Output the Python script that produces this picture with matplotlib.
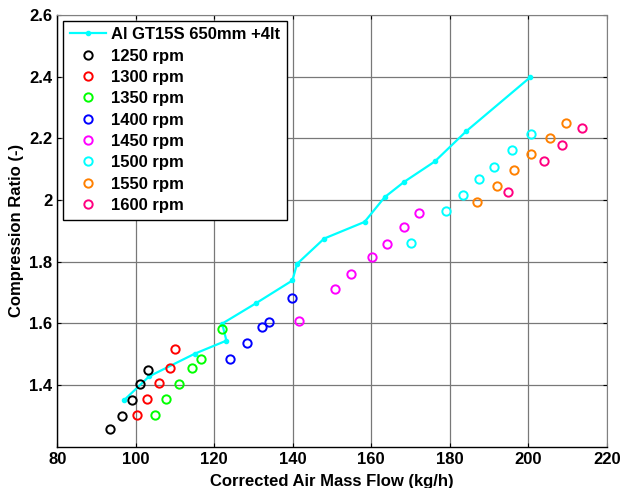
import numpy as np
import matplotlib
matplotlib.use("Agg")
import matplotlib.pyplot as plt

plt.rcParams['font.family'] = ['Liberation Sans', 'DejaVu Sans']
plt.rcParams['font.weight'] = 'bold'

# compressor map line
line_x = [97.1, 103.4, 115.1, 123.1, 122.0, 130.6, 139.9, 141.1, 148.0, 158.3, 163.4, 168.4, 176.2, 184.2, 200.5]
line_y = [1.352, 1.428, 1.502, 1.544, 1.599, 1.665, 1.739, 1.793, 1.875, 1.929, 2.009, 2.059, 2.125, 2.223, 2.398]
line_label = "Al GT15S 650mm +4lt"

# measured points per engine speed
speeds = ["1250 rpm", "1300 rpm", "1350 rpm", "1400 rpm", "1450 rpm", "1500 rpm", "1550 rpm", "1600 rpm"]
colors = ["#000000", "#ff0000", "#00ff00", "#0000ff", "#ff00ff", "#00ffff", "#ff8000", "#ff0080"]

x1250 = [93.5, 96.4, 99.0, 101.1, 103.1]
y1250 = [1.256, 1.300, 1.353, 1.403, 1.449]
x1300 = [100.2, 102.9, 105.8, 108.7, 110.1]
y1300 = [1.304, 1.355, 1.406, 1.454, 1.516]
x1350 = [105.0, 107.6, 111.1, 114.4, 116.5, 121.9]
y1350 = [1.304, 1.355, 1.403, 1.454, 1.486, 1.582]
x1400 = [124.0, 128.3, 132.2, 133.9, 139.7]
y1400 = [1.484, 1.535, 1.588, 1.605, 1.683]
x1450 = [141.7, 150.7, 154.9, 160.1, 164.0, 168.3, 172.1]
y1450 = [1.607, 1.710, 1.759, 1.816, 1.857, 1.911, 1.957]
x1500 = [170.2, 179.0, 183.3, 187.4, 191.2, 195.9, 200.6]
y1500 = [1.861, 1.963, 2.016, 2.067, 2.107, 2.161, 2.215]
x1550 = [186.9, 192.1, 196.4, 200.8, 205.5, 209.7]
y1550 = [1.995, 2.046, 2.096, 2.149, 2.200, 2.251]
x1600 = [194.9, 204.1, 208.6, 213.7]
y1600 = [2.025, 2.126, 2.180, 2.233]

xs = [x1250, x1300, x1350, x1400, x1450, x1500, x1550, x1600]
ys = [y1250, y1300, y1350, y1400, y1450, y1500, y1550, y1600]

fig = plt.figure(figsize=(6.2, 4.88), dpi=100)
ax = fig.add_axes([57.3/620, 41.3/488, 549.4/620, 431.7/488])

ax.plot(line_x, line_y, color="#00ffff", lw=1.6, marker='o', ms=3, label=line_label)
for x, y, c, lab in zip(xs, ys, colors, speeds):
    ax.plot(x, y, linestyle='none', marker='o', ms=6, mfc='none', mec=c, mew=1.4, label=lab)

ax.set_xlim(80, 220)
ax.set_ylim(1.2, 2.6)
ax.set_xticks(np.arange(80, 221, 20))
ax.set_yticks([1.4, 1.6, 1.8, 2.0, 2.2, 2.4, 2.6])
ax.set_yticklabels(["1.4", "1.6", "1.8", "2", "2.2", "2.4", "2.6"])
ax.grid(True, color="#787878", lw=0.9)
ax.tick_params(direction='in', top=True, right=True, length=3, labelsize=12, width=0.8)
for s in ['top', 'right']:
    ax.spines[s].set_color("#808080")
for s in ['left', 'bottom']:
    ax.spines[s].set_linewidth(1.0)

ax.set_xlabel("Corrected Air Mass Flow (kg/h)", fontsize=12, fontweight='bold', labelpad=5)
ax.set_ylabel("Compression Ratio (-)", fontsize=12, fontweight='bold', labelpad=4)

leg = ax.legend(loc='upper left', bbox_to_anchor=(0.0104, 0.987), fontsize=12, frameon=True,
                fancybox=False, edgecolor='black', framealpha=1, borderaxespad=0,
                handlelength=2.2, labelspacing=0.38, borderpad=0.4, handletextpad=0.3)
leg.get_frame().set_linewidth(1.0)

fig.savefig("out.png", dpi=100)
